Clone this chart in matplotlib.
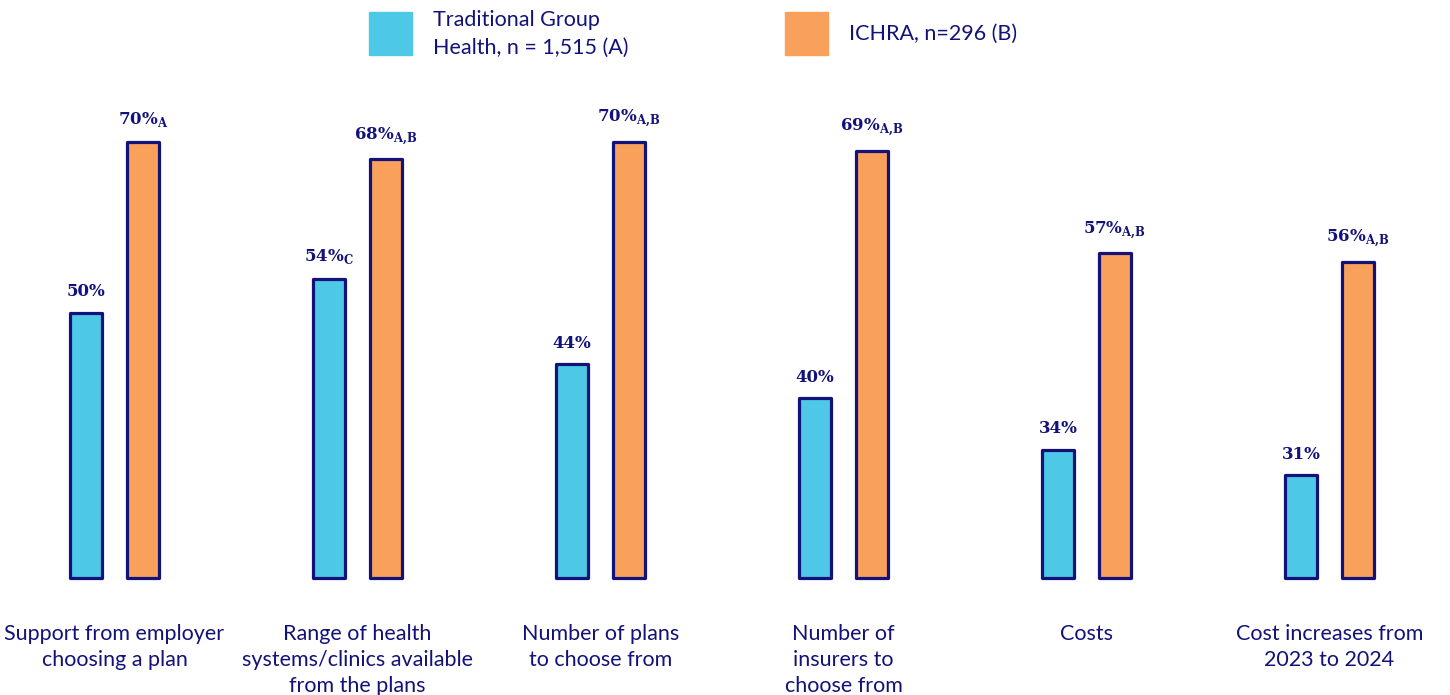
import matplotlib
matplotlib.use("Agg")
import matplotlib.pyplot as plt
from matplotlib.patches import Rectangle
import numpy as np

categories = [
    "Support from employer\nchoosing a plan",
    "Range of health\nsystems/clinics available\nfrom the plans",
    "Number of plans\nto choose from",
    "Number of\ninsurers to\nchoose from",
    "Costs",
    "Cost increases from\n2023 to 2024",
]
traditional = [50, 54, 44, 40, 34, 31]
ichra = [70, 68, 70, 69, 57, 56]
traditional_sig = ["", "C", "", "", "", ""]
ichra_sig = ["A", "A,B", "A,B", "A,B", "A,B", "A,B"]
series_names = ["Traditional Group\nHealth, n = 1,515 (A)", "ICHRA, n=296 (B)"]

BLUE = "#4DC8E6"
ORANGE = "#F9A05A"
NAVY = "#12127A"

# the picture's bars do not start at zero
base = 19

W, H = 1450, 695
fig = plt.figure(figsize=(W / 100, H / 100), dpi=100)
ax = fig.add_axes([0, 117 / H, 1, 478 / H])

x = np.arange(len(categories))
w = 0.13
off = 0.117

def draw(xs, vals, color, sigs):
    bars = ax.bar(xs, np.array(vals) - base, width=w, bottom=base, color=color,
                  edgecolor=NAVY, linewidth=2.3, joinstyle="round", clip_on=False)
    for b, v, s in zip(bars, vals, sigs):
        label = f"{v}%"
        if s:
            label += r"$_\mathregular{" + s.replace(",", "{,}") + "}$"
        ax.annotate(label, (b.get_x() + b.get_width() / 2, v), xytext=(0, 9),
                    textcoords="offset points", ha="center", va="bottom",
                    fontsize=12, fontweight="bold", family="DejaVu Serif", color=NAVY)
    return bars

draw(x - off, traditional, BLUE, traditional_sig)
draw(x + off, ichra, ORANGE, ichra_sig)

ax.set_xlim(-114.5 / 243, (W - 114.5) / 243)
ax.set_ylim(base, base + 478 / 8.55)
ax.axis("off")

for xi, c in zip(x, categories):
    ax.annotate(c, (xi, base), xytext=(0, -33), textcoords="offset points",
                ha="center", va="top", fontsize=15.5, family="Lato", color=NAVY,
                linespacing=1.38)

# legend drawn by hand: big squares with text beside them
for left, color, name in zip([369, 785], [BLUE, ORANGE], series_names):
    fig.patches.append(Rectangle((left / W, 1 - 55 / H), 43 / W, 43 / H,
                                 transform=fig.transFigure, color=color))
    fig.text((left + 64) / W, 1 - 34 / H, name, ha="left", va="center",
             fontsize=15.5, family="Lato", color=NAVY, linespacing=1.45)

fig.savefig("out.png", dpi=100)
